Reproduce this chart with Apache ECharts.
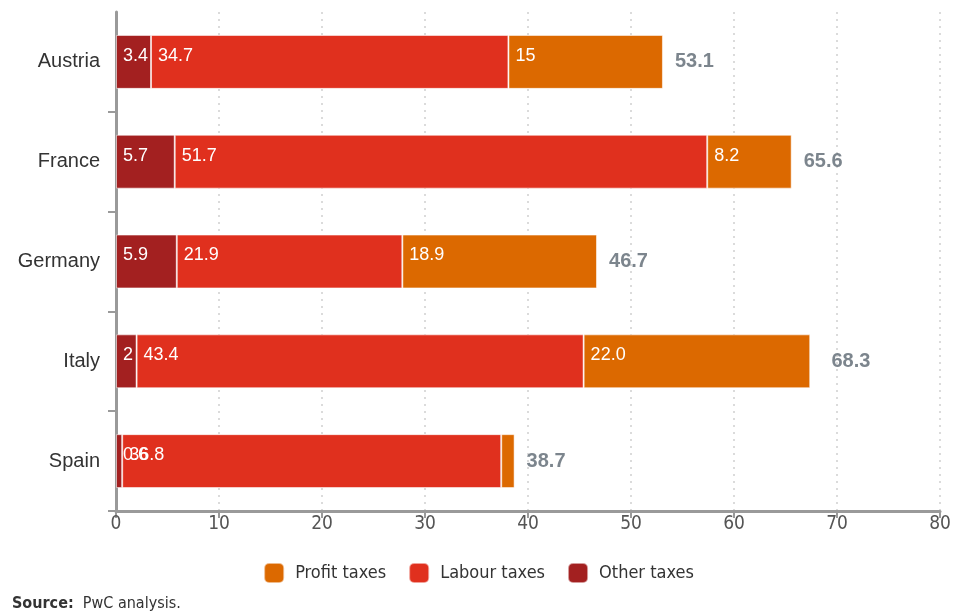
<!DOCTYPE html>
<html>
<head>
<meta charset="utf-8">
<script src="https://cdn.jsdelivr.net/npm/echarts@6/dist/echarts.min.js"></script>
<style>
  html, body { margin: 0; padding: 0; background: #fff; }
  #chart { width: 957px; height: 614px; }
</style>
</head>
<body>
<div id="chart"></div>
<script>
// Tax composition by country (stacked horizontal bars)
const countries = ['Austria', 'France', 'Germany', 'Italy', 'Spain'];
const otherTaxes = [3.4, 5.7, 5.9, 2, 0.6];
const labourTaxes = [34.7, 51.7, 21.9, 43.4, 36.8];
const profitTaxes = [15, 8.2, 18.9, 22.0, 1.3];
const totals = [53.1, 65.6, 46.7, 68.3, 38.7];
const profitLabels = ['15', '8.2', '18.9', '22.0', ''];
const otherLabels = ['3.4', '5.7', '5.9', '2', '0.6'];
const labourLabels = ['34.7', '51.7', '21.9', '43.4', '36.8'];
const xTicks = [0, 10, 20, 30, 40, 50, 60, 70, 80];

const narrow = "'Liberation Sans Narrow', 'DejaVu Sans Condensed', 'Liberation Sans', Arial, sans-serif";
const sans = "'Liberation Sans', Arial, sans-serif";

const insideLabel = (texts) => ({
  show: true,
  position: 'insideLeft',
  offset: [2, -6],
  color: '#fff',
  fontFamily: sans,
  fontSize: 18,
  formatter: (p) => texts[p.dataIndex]
});

const segStyle = (color) => ({
  color: color,
  borderColor: 'rgba(255,255,255,0.55)',
  borderWidth: 1
});

const chart = echarts.init(document.getElementById('chart'));
chart.setOption({
  animation: false,
  grid: { left: 116, right: 17, top: 12, bottom: 103, containLabel: false },
  legend: {
    data: ['Profit taxes', 'Labour taxes', 'Other taxes'],
    bottom: 25,
    left: 'center',
    itemWidth: 20,
    itemHeight: 20,
    itemGap: 22,
    icon: 'roundRect',
    textStyle: { fontFamily: narrow, fontSize: 18, color: '#333', padding: [0, 0, 0, 6] }
  },
  xAxis: {
    type: 'value',
    min: 0,
    max: 80,
    interval: 10,
    axisLine: { show: true, lineStyle: { color: '#9a9a9a', width: 3 } },
    axisTick: { show: true, length: 7, lineStyle: { color: '#9a9a9a', width: 2 } },
    axisLabel: {
      color: '#555', fontFamily: narrow, fontSize: 19, margin: 4,
      formatter: (v) => xTicks.includes(v) ? String(v) : ''
    },
    splitLine: { show: true, lineStyle: { color: '#cfcfcf', type: [2, 5], width: 1.5 } }
  },
  yAxis: {
    type: 'category',
    data: countries,
    inverse: true,
    axisLine: { show: true, lineStyle: { color: '#9a9a9a', width: 3 } },
    axisTick: {
      show: true, length: 8, interval: (i) => i !== 0,
      lineStyle: { color: '#9a9a9a', width: 2 }
    },
    axisLabel: { color: '#333', fontFamily: sans, fontSize: 20, margin: 16 }
  },
  series: [
    {
      name: 'Other taxes', type: 'bar', stack: 'tax', barWidth: '54%',
      data: otherTaxes, itemStyle: segStyle('#A32020'),
      label: insideLabel(otherLabels)
    },
    {
      name: 'Labour taxes', type: 'bar', stack: 'tax',
      data: labourTaxes, itemStyle: segStyle('#E0301E'),
      label: insideLabel(labourLabels)
    },
    {
      name: 'Profit taxes', type: 'bar', stack: 'tax',
      data: profitTaxes, itemStyle: segStyle('#DC6900'),
      label: insideLabel(profitLabels)
    },
    {
      name: 'Total', type: 'scatter',
      data: totals.map((t, i) => [t, countries[i]]),
      symbolSize: 0,
      silent: true,
      label: {
        show: true, position: 'right', distance: 12, offset: [0, 0],
        color: '#5b6670', fontFamily: sans, fontSize: 20, fontWeight: 'bold',
        formatter: (p) => totals[p.dataIndex].toFixed(1)
      }
    }
  ],
  graphic: [{
    type: 'text', left: 12, top: 596,
    style: {
      text: '{b|Source:}  PwC analysis.',
      fontFamily: narrow,
      fontSize: 16,
      fill: '#333',
      rich: {
        b: { fontWeight: 'bold', fontSize: 16, fontFamily: narrow, fill: '#333' }
      }
    }
  }]
});
</script>
</body>
</html>
